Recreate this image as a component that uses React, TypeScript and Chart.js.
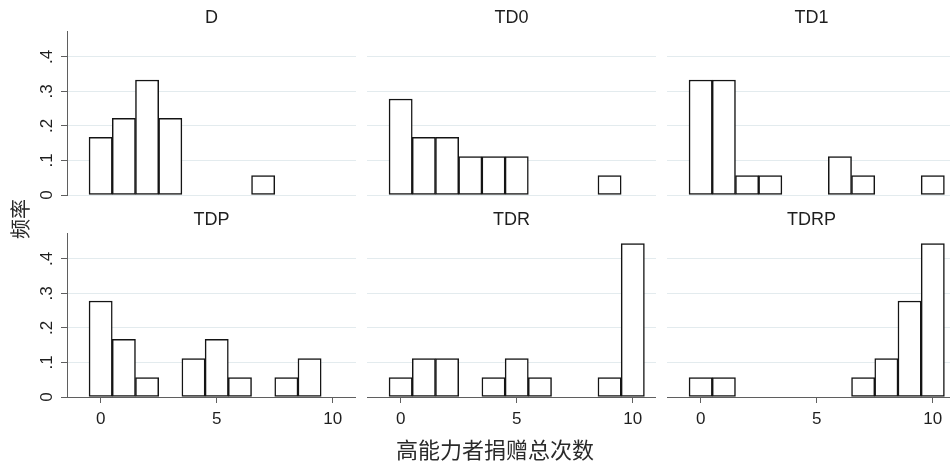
import React, { useEffect, useRef } from 'react';
import { Chart, registerables } from 'chart.js';

Chart.register(...registerables);

// Histogram bins (total donations by high-ability player)
const bins = [0, 1, 2, 3, 4, 5, 6, 7, 8, 9, 10];

// Frequencies per bin for each treatment (null = empty bin)
const freqD = [0.167, 0.222, 0.333, 0.222, null, null, null, 0.056, null, null, null];
const freqTD0 = [0.278, 0.167, 0.167, 0.111, 0.111, 0.111, null, null, null, 0.056, null];
const freqTD1 = [0.333, 0.333, 0.056, 0.056, null, null, 0.111, 0.056, null, null, 0.056];
const freqTDP = [0.278, 0.167, 0.056, null, 0.111, 0.167, 0.056, null, 0.056, 0.111, null];
const freqTDR = [0.056, 0.111, 0.111, null, 0.056, 0.111, 0.056, null, null, 0.056, 0.444];
const freqTDRP = [0.056, 0.056, null, null, null, null, null, 0.056, 0.111, 0.278, 0.444];

const panelTitles = ['D', 'TD0', 'TD1', 'TDP', 'TDR', 'TDRP'];
const panelSeries = [freqD, freqTD0, freqTD1, freqTDP, freqTDR, freqTDRP];

const yTickValues = [0, 0.1, 0.2, 0.3, 0.4];
const yTickLabels = ['0', '.1', '.2', '.3', '.4'];
const xTickValues = [0, 5, 10];
const xTickLabels = ['0', '5', '10'];

const xAxisTitle = '高能力者捐赠总次数';
const yAxisTitle = '频率';

const LATIN = '"Liberation Sans", Arial, sans-serif';
const CJK = '"Noto Sans CJK SC", "Noto Sans", sans-serif';
const TEXT = '#1e1e1e';
const AXIS = '#5f5f5f';
const GRID = '#e3ebee';

function Panel({ index }: { index: number }) {
  const ref = useRef<HTMLCanvasElement | null>(null);
  const row = Math.floor(index / 3);
  const col = index % 3;
  const width = 356;
  const height = row === 0 ? 225 : 263;

  useEffect(() => {
    const showY = col === 0;
    const showX = row === 1;
    const chart = new Chart(ref.current as HTMLCanvasElement, {
      type: 'bar',
      data: {
        datasets: [
          {
            data: bins.map((b, i) => ({ x: b, y: panelSeries[index][i] })) as any,
            backgroundColor: '#ffffff',
            borderColor: '#141414',
            borderWidth: 1.5,
            borderSkipped: false,
            barPercentage: 1,
            categoryPercentage: 1,
          },
        ],
      },
      options: {
        responsive: false,
        animation: false,
        devicePixelRatio: 1,
        layout: { padding: { left: 0, right: 0, top: 0, bottom: row === 0 ? 30 : 0 } },
        plugins: {
          legend: { display: false },
          tooltip: { enabled: false },
          title: {
            display: true,
            text: panelTitles[index],
            fullSize: false,
            color: TEXT,
            font: { family: LATIN, size: 18, weight: 'normal' },
            padding: { top: 7, bottom: 2.4 },
          },
        },
        scales: {
          x: {
            type: 'linear',
            min: -1.45,
            max: 11,
            offset: false,
            display: showX,
            afterBuildTicks: (s: any) => {
              s.ticks = xTickValues.map((v) => ({ value: v }));
            },
            afterFit: showX
              ? (s: any) => {
                  s.height = 68;
                }
              : undefined,
            ticks: {
              includeBounds: false,
              autoSkip: false,
              maxRotation: 0,
              minRotation: 0,
              padding: 6,
              color: TEXT,
              font: { family: LATIN, size: 17 },
              callback: (_v: any, i: number) => xTickLabels[i],
            },
            grid: {
              display: true,
              offset: false,
              drawOnChartArea: false,
              drawTicks: true,
              tickLength: 6,
              tickColor: AXIS,
              tickWidth: 1,
            },
            border: { display: true, color: AXIS, width: 1 },
          },
          y: {
            type: 'linear',
            min: 0,
            max: 0.475,
            afterBuildTicks: (s: any) => {
              s.ticks = yTickValues.map((v) => ({ value: v }));
            },
            afterFit: (s: any) => {
              s.width = 67;
            },
            ticks: {
              display: showY,
              includeBounds: false,
              minRotation: 90,
              maxRotation: 90,
              crossAlign: 'center',
              padding: 7,
              color: TEXT,
              font: { family: LATIN, size: 17 },
              callback: (_v: any, i: number) => yTickLabels[i],
            },
            grid: {
              display: true,
              drawOnChartArea: true,
              drawTicks: showY,
              tickLength: 6,
              color: GRID,
              tickColor: AXIS,
              lineWidth: 1,
            },
            border: { display: showY, color: AXIS, width: 1 },
          },
        },
      } as any,
    });
    return () => chart.destroy();
  }, []);

  return (
    <canvas
      ref={ref}
      width={width}
      height={height}
      style={{
        position: 'absolute',
        left: 300 * col,
        top: 202 * row,
        width,
        height,
      }}
    />
  );
}

export default function App() {
  return (
    <div
      style={{
        position: 'fixed',
        left: 0,
        top: 0,
        width: 950,
        height: 465,
        overflow: 'hidden',
        background: '#ffffff',
      }}
    >
      {panelTitles.map((_, i) => (
        <Panel key={i} index={i} />
      ))}
      <div
        style={{
          position: 'absolute',
          left: 495,
          top: 448,
          transform: 'translate(-50%, -50%)',
          whiteSpace: 'nowrap',
          fontFamily: CJK,
          fontSize: 22,
          lineHeight: 1,
          color: '#2a2a2a',
        }}
      >
        {xAxisTitle}
      </div>
      <div
        style={{
          position: 'absolute',
          left: 20,
          top: 219,
          transform: 'translate(-50%, -50%) rotate(-90deg)',
          whiteSpace: 'nowrap',
          fontFamily: CJK,
          fontSize: 20,
          lineHeight: 1,
          color: '#2a2a2a',
        }}
      >
        {yAxisTitle}
      </div>
    </div>
  );
}
